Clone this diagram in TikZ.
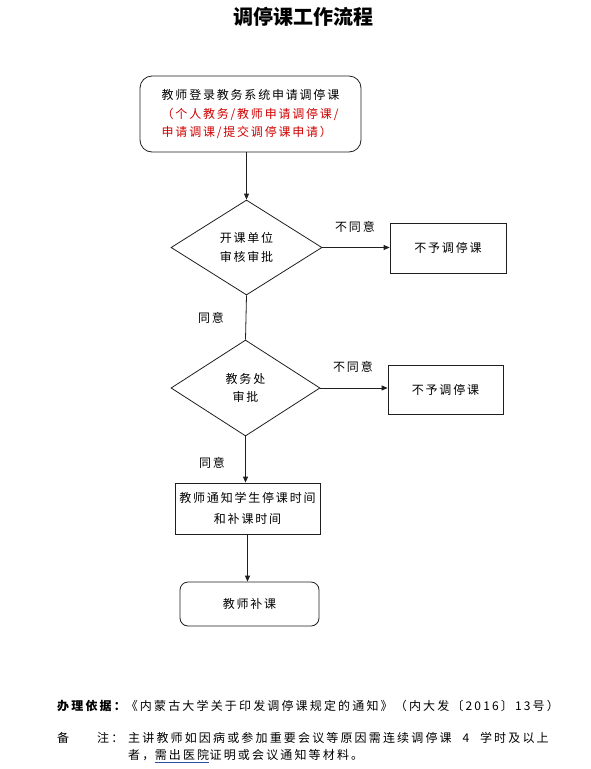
\documentclass[tikz,border=0pt]{standalone}
\usepackage{fontspec}
\setmainfont{Noto Sans CJK SC}
\newfontfamily\cjk[LetterSpace=15]{Noto Sans CJK SC}
\newfontfamily\cjknote[LetterSpace=18]{Noto Sans CJK SC}
\usetikzlibrary{arrows.meta,positioning,shapes.geometric}
\definecolor{fc-line}{HTML}{1F1F1F}
\definecolor{fc-red}{HTML}{D00000}
\definecolor{fc-blue}{HTML}{2F4F9F}

\begin{document}
\begin{tikzpicture}[x=1pt, y=-1pt,
    every node/.style={font=\cjk\fontsize{12}{18.5}\selectfont},
    box/.style={draw=fc-line, line width=0.8pt, rectangle, align=center, inner sep=0pt},
    roundbox/.style={box, rounded corners=12pt},
    check/.style={draw=fc-line, line width=0.8pt, diamond, align=center, inner sep=0pt},
    link/.style={-{Triangle[length=6pt,width=5pt]}, draw=fc-line, line width=0.8pt},
    note/.style={anchor=west, inner sep=0pt, font=\cjknote\fontsize{12}{17}\selectfont}]
    \fill[white] (0,0) rectangle (590,769);
    \useasboundingbox (0,0) rectangle (590,769);
    \node[font=\setmainfont{Noto Sans CJK SC}\fontsize{20}{20}\selectfont] (title) at (303,17) {\bfseries 调停课工作流程};
    % flow
    \node[roundbox, minimum width=221pt, minimum height=76pt, align=left] (apply) at (250.5,114)
        {教师登录教务系统申请调停课\\\textcolor{fc-red}{（个人教务/教师申请调停课/}\\\textcolor{fc-red}{申请调课/提交调停课申请）}};
    \node[check, minimum width=151pt, minimum height=95pt] (unit) at (246.5,247.5) {开课单位\\审核审批};
    \node[box, minimum width=116pt, minimum height=50pt] (reject1) at (448,248) {不予调停课};
    \node[check, minimum width=149pt, minimum height=96pt] (audit) at (245.5,388) {教务处\\审批};
    \node[box, minimum width=115pt, minimum height=49pt] (reject2) at (445.5,389.5) {不予调停课};
    \node[box, minimum width=145pt, minimum height=51pt, font=\cjk\fontsize{12}{21}\selectfont] (notify) at (247.5,508.5)
        {教师通知学生停课时间\\和补课时间};
    \node[roundbox, rounded corners=8pt, minimum width=139pt, minimum height=44pt] (makeup) at (249.5,604) {教师补课};
    % labels
    \node (no1) at (355,227) {不同意};
    \node (no2) at (353,367) {不同意};
    \node (yes1) at (211,318) {同意};
    \node (yes2) at (212,463) {同意};
    % connectors
    \draw[link] (apply.south -| unit.north) -- (unit.north);
    \draw[link] (unit.east) -- (reject1.west |- unit.east);
    \draw[draw=fc-line, line width=0.8pt] (unit.south) -- (audit.north);
    \draw[link] (audit.east) -- (reject2.west |- audit.east);
    \draw[link] (audit.south) -- (notify.north -| audit.south);
    \draw[link] (notify.south) -- (notify.south |- makeup.north);
    % notes
    \node[note] (basis) at (57,706)
        {{\bfseries 办理依据：}《内蒙古大学关于印发调停课规定的通知》（内大发〔2016〕13号）};
    \node[note] (remark) at (57,738) {备\hspace{28pt}注：};
    \node[note] (remark-a) at (128,738) {主讲教师如因病或参加重要会议等原因需连续调停课\hspace{6pt} 4 \hspace{6pt}学时及以上};
    \node[note] (remark-b) at (128,755) {者，};
    \node[note, right=0pt of remark-b] (cert) {需出医院};
    \node[note, right=0pt of cert] (remark-c) {证明或会议通知等材料。};
    \draw[fc-blue, line width=0.8pt] ([yshift=-1.5pt]cert.south west) -- ([yshift=-1.5pt]cert.south east);
\end{tikzpicture}
\end{document}
